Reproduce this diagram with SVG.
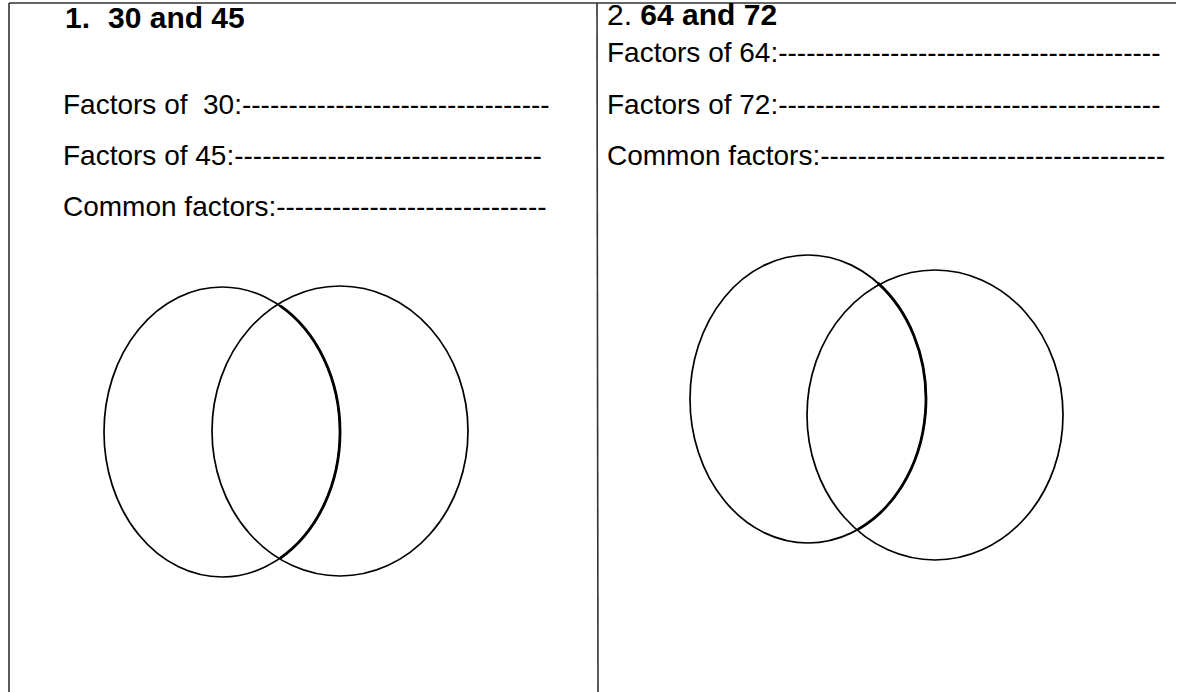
<svg xmlns="http://www.w3.org/2000/svg" width="1178" height="692" viewBox="0 0 1178 692">
<style>
.t{font-family:"Liberation Sans",Arial,sans-serif;font-size:28px;fill:#000}
.h{font-size:30px}
.b{font-weight:bold}
.v{fill:none;stroke:#000;stroke-width:1.7}
.k{fill:none;stroke:#000;stroke-width:2.8}
.g{fill:none;stroke:#333;stroke-width:1.6}
</style>
<rect width="1178" height="692" fill="#fff"/>
<g id="table">
<line class="g" x1="9" y1="3" x2="1176" y2="3"/>
<line class="g" x1="9" y1="3" x2="9" y2="692"/>
<line class="g" x1="597" y1="3" x2="598" y2="692"/>
</g>
<g id="cell1">
<text class="t h b" x="65" y="28">1.<tspan x="108">30 and 45</tspan></text>
<text class="t" x="63" y="114" xml:space="preserve">Factors of  30:---------------------------------</text>
<text class="t" x="63" y="165">Factors of 45:---------------------------------</text>
<text class="t" x="63" y="216">Common factors:-----------------------------</text>
</g>
<g id="cell2">
<text class="t h" x="607" y="25">2. <tspan class="b">64 and 72</tspan></text>
<text class="t" x="607" y="62">Factors of 64:-----------------------------------------</text>
<text class="t" x="607" y="114">Factors of 72:-----------------------------------------</text>
<text class="t" x="607" y="165">Common factors:-------------------------------------</text>
</g>
<g id="venn1">
<ellipse class="v" cx="222" cy="432" rx="118" ry="145"/>
<ellipse class="v" cx="340" cy="431" rx="128" ry="145"/>
<path class="k" d="M280,305.7 A118,145 0 0 1 280,558.3"/>
</g>
<g id="venn2">
<ellipse class="v" cx="808" cy="399" rx="118" ry="144"/>
<ellipse class="v" cx="935" cy="415" rx="128" ry="145"/>
<path class="k" d="M878,283.1 A118,144 0 0 1 858,529.4"/>
</g>
</svg>
